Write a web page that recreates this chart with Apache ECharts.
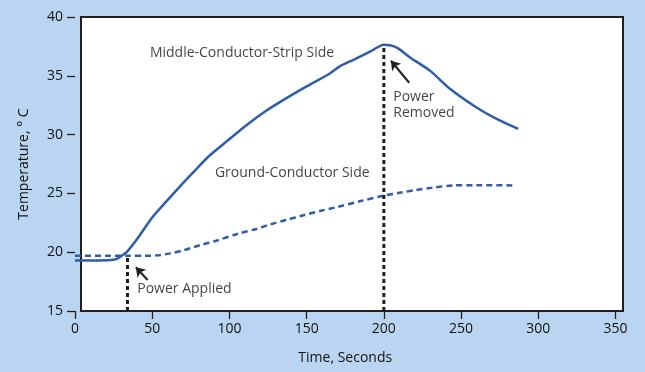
<!DOCTYPE html>
<html><head><meta charset="utf-8">
<script src="https://cdn.jsdelivr.net/npm/echarts@6/dist/echarts.min.js"></script>
<style>html,body{margin:0;padding:0;background:#b9d5f1;}#c{width:645px;height:372px;}</style>
</head><body><div id="c"></div>
<script>
// Data
var xTicks = [0, 50, 100, 150, 200, 250, 300, 350];
var yTicks = [15, 20, 25, 30, 35, 40];
var middleTime = [0, 15, 25, 28, 30, 33, 36, 42, 50, 57, 68, 77, 87, 98, 111, 124, 135, 150, 165, 172, 181, 191, 197, 200, 204, 209, 217, 230, 243, 260, 273, 287];
var middleTemp = [19.3, 19.3, 19.35, 19.5, 19.68, 19.95, 20.4, 21.45, 22.95, 24.0, 25.6, 26.85, 28.2, 29.4, 30.8, 32.05, 32.95, 34.1, 35.2, 35.85, 36.4, 37.05, 37.5, 37.63, 37.6, 37.35, 36.55, 35.42, 33.87, 32.3, 31.33, 30.48];
var groundTime = [0, 20, 35, 45, 53, 61, 70, 81, 92, 105, 118, 126, 137, 148, 160, 170, 185, 200, 210, 220, 232, 245, 260, 284];
var groundTemp = [19.69, 19.69, 19.69, 19.7, 19.73, 19.88, 20.15, 20.6, 21.0, 21.55, 22.0, 22.35, 22.75, 23.14, 23.55, 23.85, 24.35, 24.81, 25.05, 25.27, 25.5, 25.68, 25.7, 25.68];
var powerAppliedTime = 34, powerAppliedTop = 19.7;
var powerRemovedTime = 200, powerRemovedTop = 37.6;
var labelTexts = ['Middle-Conductor-Strip Side', 'Ground-Conductor Side', 'Power Applied', 'Power\nRemoved'];
var labelTime = [48.5, 90.6, 40.3, 206.1];
var labelTemp = [36.94, 26.71, 16.85, 32.52];
var arrowFrom = [[47.0, 17.64], [216.4, 34.41]];
var arrowTo = [[39.4, 18.72], [204.6, 36.28]];

var FONT = 'Open Sans';
var TXT = '#111111';
var BLUE = '#2f5da8';
function zip(a, b) { return a.map(function (v, i) { return [v, b[i]]; }); }

var chart = echarts.init(document.getElementById('c'), null, {renderer: 'canvas'});
chart.setOption({
  backgroundColor: '#b9d5f1',
  animation: false,
  grid: [
    {left: 75, right: 29.5, top: 17, bottom: 61},
    {left: 81, right: 22, top: 17, bottom: 61, show: true, backgroundColor: '#ffffff', borderColor: '#231f20', borderWidth: 2, z: 0}
  ],
  xAxis: [
    {gridIndex: 0, type: 'value', min: 0, max: 350, interval: 50,
     name: 'Time, Seconds', nameLocation: 'middle', nameGap: 40,
     nameTextStyle: {fontFamily: FONT, fontSize: 14, color: TXT},
     axisLine: {show: false}, axisTick: {show: true, length: 8, lineStyle: {color: '#231f20', width: 1.3}},
     axisLabel: {fontFamily: FONT, fontSize: 14, color: TXT, margin: 11},
     splitLine: {show: false}},
    {gridIndex: 1, type: 'value', min: 0, max: 1, show: false}
  ],
  yAxis: [
    {gridIndex: 0, type: 'value', min: 15, max: 40, interval: 5,
     name: 'Temperature, \u00b0 C', nameLocation: 'middle', nameGap: 44,
     nameTextStyle: {fontFamily: FONT, fontSize: 14, color: TXT},
     axisLine: {show: false}, axisTick: {show: true, length: 8, lineStyle: {color: '#231f20', width: 1.3}},
     axisLabel: {fontFamily: FONT, fontSize: 14, color: TXT, margin: 12},
     splitLine: {show: false}},
    {gridIndex: 1, type: 'value', min: 0, max: 1, show: false}
  ],
  series: [
    {type: 'line', xAxisIndex: 0, yAxisIndex: 0, data: zip(middleTime, middleTemp), smooth: 0.3, showSymbol: false,
     lineStyle: {color: BLUE, width: 2.5}, z: 3},
    {type: 'line', xAxisIndex: 0, yAxisIndex: 0, data: zip(groundTime, groundTemp), smooth: 0.3, showSymbol: false,
     lineStyle: {color: BLUE, width: 2.5, type: [6, 4]}, z: 3},
    {type: 'line', xAxisIndex: 0, yAxisIndex: 0, data: [[powerAppliedTime, 15], [powerAppliedTime, powerAppliedTop]], showSymbol: false,
     lineStyle: {color: '#231f20', width: 3, type: [4, 3]}, z: 4},
    {type: 'line', xAxisIndex: 0, yAxisIndex: 0, data: [[powerRemovedTime, 15], [powerRemovedTime, powerRemovedTop]], showSymbol: false,
     lineStyle: {color: '#231f20', width: 3, type: [4, 3]}, z: 4},
    {type: 'lines', coordinateSystem: 'cartesian2d', xAxisIndex: 0, yAxisIndex: 0,
     data: arrowFrom.map(function (f, i) { return {coords: [f, arrowTo[i]]}; }),
     symbol: ['none', 'arrow'], symbolSize: 9, lineStyle: {color: '#231f20', width: 2, opacity: 1}, z: 5},
    {type: 'scatter', xAxisIndex: 0, yAxisIndex: 0, symbolSize: 0, z: 6,
     data: labelTexts.map(function (t, i) { return {value: [labelTime[i], labelTemp[i]], name: t}; }),
     label: {show: true, position: [0, 0], align: 'left', verticalAlign: 'middle', formatter: '{b}',
             fontFamily: FONT, fontSize: 14, color: TXT, lineHeight: 16}}
  ]
});
</script></body></html>
